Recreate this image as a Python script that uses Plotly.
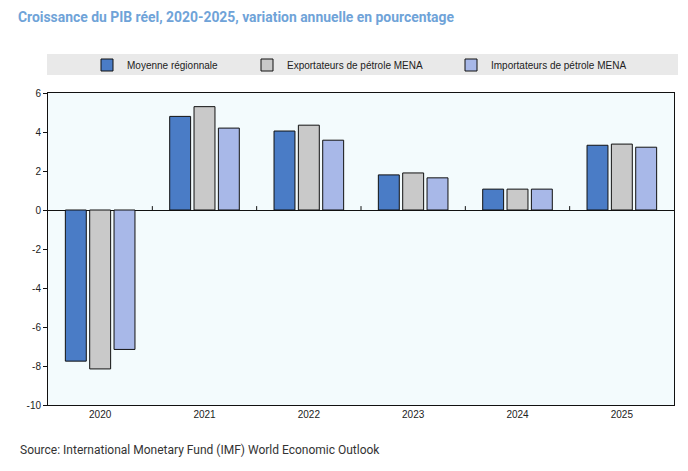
import plotly.graph_objects as go

years = ["2020", "2021", "2022", "2023", "2024", "2025"]
moyenne = [-7.75, 4.8, 4.05, 1.8, 1.07, 3.32]
exportateurs = [-8.15, 5.3, 4.35, 1.9, 1.07, 3.38]
importateurs = [-7.15, 4.2, 3.58, 1.65, 1.07, 3.22]

y_tickvals = [-10, -8, -6, -4, -2, 0, 2, 4, 6]
y_ticktext = ["-10", "-8", "-6", "-4", "-2", "0", "2", "4", "6"]

names = ["Moyenne régionnale", "Exportateurs de pétrole MENA", "Importateurs de pétrole MENA"]
colors = ["#4a7cc6", "#c9c9c9", "#a8b8e8"]
series = [moyenne, exportateurs, importateurs]
legend_ids = ["legend", "legend2", "legend3"]

OFF = 8  # page body margin
W, H = 688 - OFF, 471 - OFF
# plot area in screen pixels
PL, PR, PT, PB = 48, 674, 93, 405
ML, MR, MT, MB = PL - OFF, W - (PR - OFF), PT - OFF, H - (PB - OFF)
PW, PH = W - ML - MR, H - MT - MB

legend_text_px = [127, 287, 491]  # screen x where legend text starts


def px_x(sx):
    return (sx - OFF - ML) / PW


def px_y(sy):
    return 1 - (sy - OFF - MT) / PH


small_font = dict(family="Liberation Sans Narrow, Liberation Sans, Arial", size=10, color="#222")

fig = go.Figure()
for nm, col, vals, lid in zip(names, colors, series, legend_ids):
    fig.add_trace(go.Bar(
        x=years, y=vals, name=nm, legend=lid,
        marker=dict(color=col, line=dict(color="#111", width=1)),
    ))

layout_legends = {}
for lid, tx in zip(legend_ids, legend_text_px):
    layout_legends[lid] = dict(
        xref="container", yref="container",
        x=(tx - OFF - 40) / W, y=1 - (65 - OFF) / H, xanchor="left", yanchor="middle",
        orientation="h", bgcolor="rgba(0,0,0,0)", font=small_font,
        itemwidth=30,
    )

fig.update_layout(
    width=W, height=H,
    margin=dict(l=ML, r=MR, t=MT, b=MB, autoexpand=False),
    paper_bgcolor="white",
    plot_bgcolor="#f3fbfd",
    barmode="group",
    bargap=0.3,
    bargroupgap=0.14,
    showlegend=True,
    title=dict(
        text="<b>Croissance du PIB réel, 2020-2025, variation annuelle en pourcentage</b>",
        xref="container", yref="container",
        x=(18 - OFF) / W, xanchor="left", y=1 - 4 / H, yanchor="top",
        pad=dict(t=0, b=0, l=0, r=0),
        font=dict(family="Roboto", size=13.9, color="#6fa3d8"),
    ),
    font=small_font,
    **layout_legends,
)

fig.update_xaxes(
    type="category", showline=True, mirror=True, linecolor="#111", linewidth=1,
    ticks="", tickfont=small_font, showgrid=False, automargin=False,
)
fig.update_yaxes(
    range=[-10, 6], tickvals=y_tickvals, ticktext=y_ticktext,
    showline=True, mirror=True, linecolor="#111", linewidth=1,
    ticks="outside", ticklen=4, tickcolor="#111", tickfont=small_font, showgrid=False,
    zeroline=True, zerolinecolor="#111", zerolinewidth=1, automargin=False,
)

# legend band
fig.add_shape(type="rect", xref="paper", yref="paper",
              x0=px_x(47), x1=px_x(678), y0=px_y(75), y1=px_y(54),
              fillcolor="#e9e9e9", line=dict(width=0), layer="below")

# category boundary tick marks on the zero line
for i in range(1, len(years)):
    fig.add_shape(type="line", xref="x", yref="y", x0=i - 0.5, x1=i - 0.5, y0=0, y1=0.2,
                  line=dict(color="#111", width=1))

fig.add_annotation(
    text="Source: International Monetary Fund (IMF) World Economic Outlook",
    xref="paper", yref="paper", x=px_x(18), y=px_y(450),
    xanchor="left", yanchor="middle",
    showarrow=False, font=dict(family="Roboto", size=12, color="#333"),
)

fig.write_html("out.html")
